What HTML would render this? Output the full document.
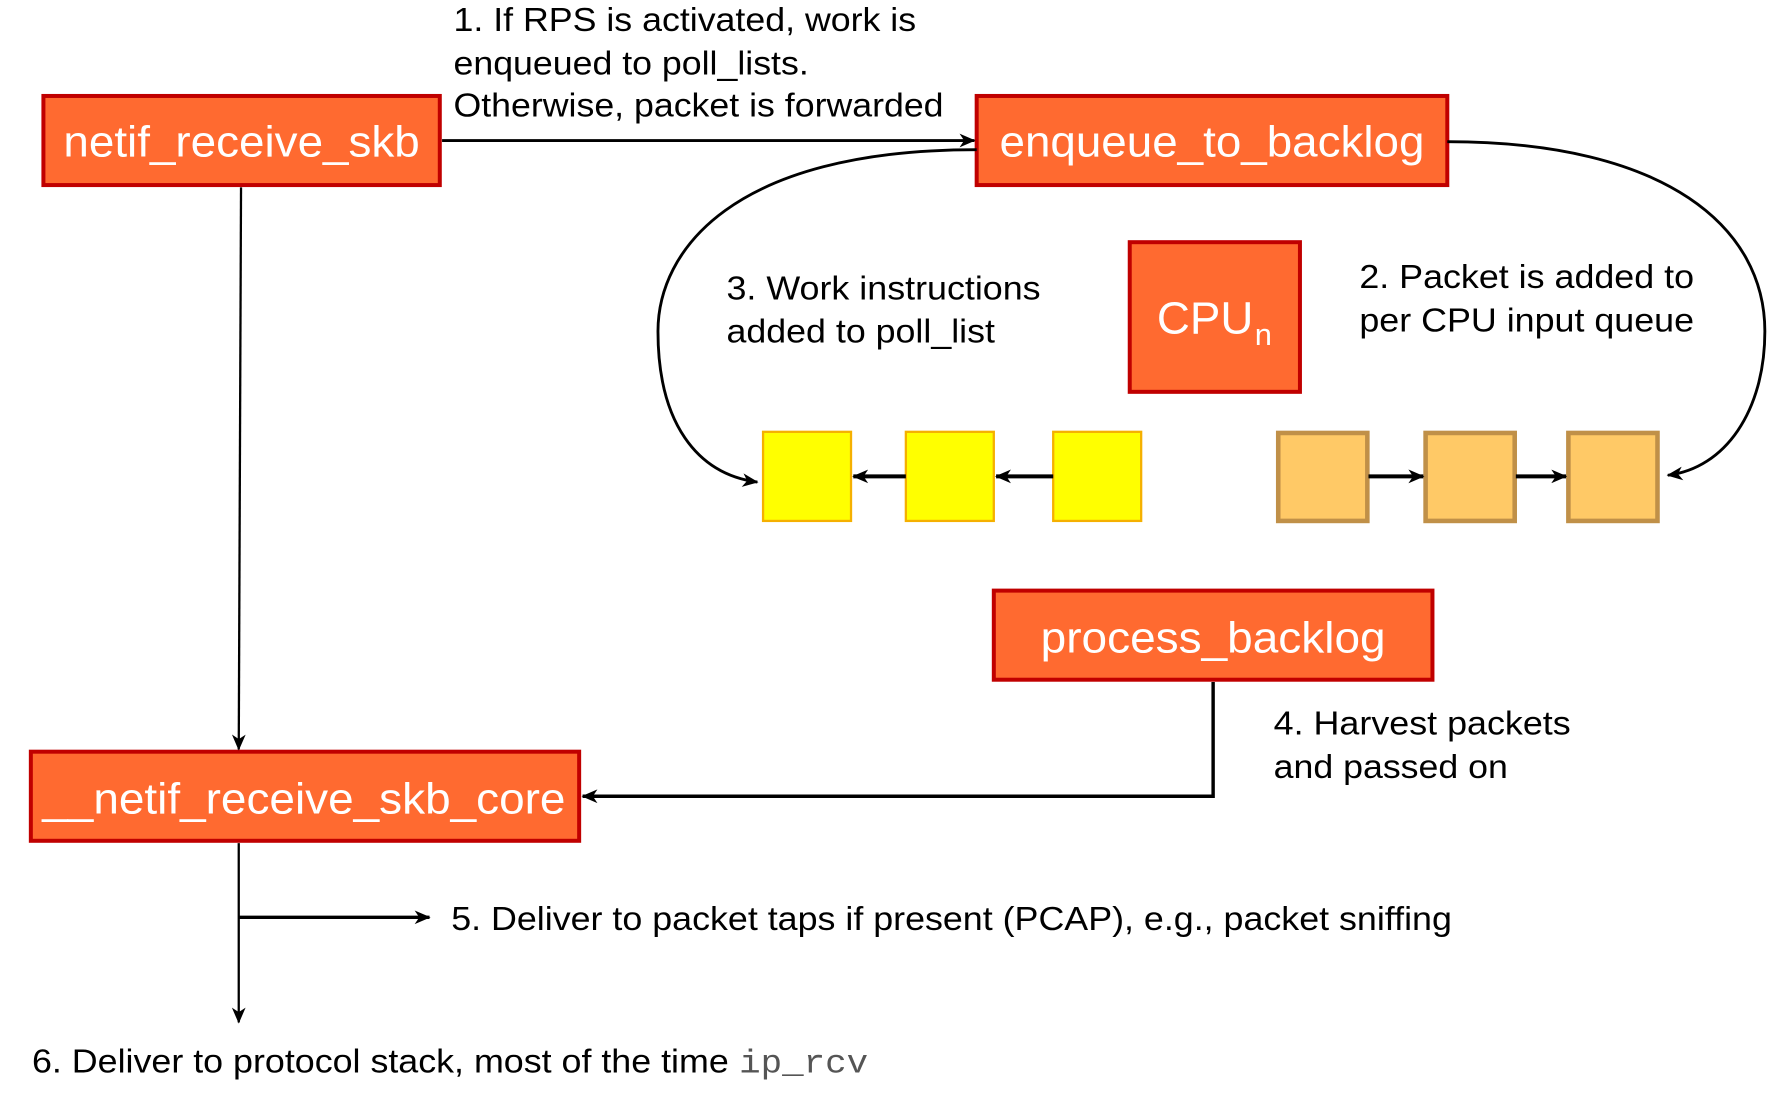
<!DOCTYPE html>
<html><head><meta charset="utf-8"><style>html,body{margin:0;padding:0;background:#fff}svg{display:block}</style></head>
<body>
<svg width="1782" height="1096" viewBox="0 0 1560 959.4" preserveAspectRatio="none" xmlns="http://www.w3.org/2000/svg" font-family="Liberation Sans, Arial, sans-serif">
<defs>
<marker id="a" markerWidth="14" markerHeight="14" refX="13" refY="7" orient="auto" markerUnits="userSpaceOnUse"><path d="M0,1 L14,7 L0,13 L4,7 z" fill="#000"/></marker>
</defs>
<g fill="#FF6A30" stroke="#C00000" stroke-width="3.5">
<rect x="38" y="84" width="347" height="78"/>
<rect x="855" y="84" width="412" height="78"/>
<rect x="989" y="212" width="149" height="131"/>
<rect x="870" y="517" width="384" height="78"/>
<rect x="27" y="658" width="480" height="78"/>
</g>
<g fill="#FFFF00" stroke="#F5B000" stroke-width="2">
<rect x="668" y="378" width="77" height="78"/>
<rect x="793" y="378" width="77" height="78"/>
<rect x="922" y="378" width="77" height="78"/>
</g>
<g fill="#FFC966" stroke="#C09048" stroke-width="4">
<rect x="1119" y="379" width="78" height="77"/>
<rect x="1248" y="379" width="78" height="77"/>
<rect x="1373" y="379" width="78" height="77"/>
</g>
<g fill="#fff" font-size="38" text-anchor="middle">
<text x="211.5" y="137" textLength="312" lengthAdjust="spacingAndGlyphs">netif_receive_skb</text>
<text x="1061" y="137" textLength="372" lengthAdjust="spacingAndGlyphs">enqueue_to_backlog</text>
<text x="1062" y="571" textLength="302" lengthAdjust="spacingAndGlyphs">process_backlog</text>
<text x="266" y="712" textLength="458" lengthAdjust="spacingAndGlyphs">__netif_receive_skb_core</text>
<text x="1055" y="292" font-size="40">CPU</text>
<text x="1106" y="302" font-size="27">n</text>
</g>
<g stroke="#000" stroke-width="2.5" fill="none">
<line x1="387" y1="123" x2="853" y2="123" marker-end="url(#a)"/>
<path d="M855,131 C640,131 576,220 576,290 C576,370 610,415 663,422" marker-end="url(#a)"/>
<path d="M1267,124 C1460,124 1545,200 1545,290 C1545,360 1510,410 1460,416" marker-end="url(#a)"/>
<line x1="793" y1="417" x2="747" y2="417" stroke-width="3.5" marker-end="url(#a)"/>
<line x1="922" y1="417" x2="872" y2="417" stroke-width="3.5" marker-end="url(#a)"/>
<line x1="1198" y1="417" x2="1246" y2="417" stroke-width="3.5" marker-end="url(#a)"/>
<line x1="1327" y1="417" x2="1371" y2="417" stroke-width="3.5" marker-end="url(#a)"/>
<line x1="211" y1="164" x2="209" y2="656" stroke-width="2" marker-end="url(#a)"/>
<polyline points="1062,597 1062,697 510,697" stroke-width="3" marker-end="url(#a)"/>
<line x1="209" y1="738" x2="209" y2="895" stroke-width="2" marker-end="url(#a)"/>
<line x1="209" y1="803" x2="376" y2="803" stroke-width="3" marker-end="url(#a)"/>
</g>
<g fill="#000" font-size="29">
<text x="397" y="27" textLength="405" lengthAdjust="spacingAndGlyphs">1. If RPS is activated, work is</text>
<text x="397" y="65" textLength="311" lengthAdjust="spacingAndGlyphs">enqueued to poll_lists.</text>
<text x="397" y="102" textLength="429" lengthAdjust="spacingAndGlyphs">Otherwise, packet is forwarded</text>
<text x="636" y="262" textLength="275" lengthAdjust="spacingAndGlyphs">3. Work instructions</text>
<text x="636" y="300" textLength="235" lengthAdjust="spacingAndGlyphs">added to poll_list</text>
<text x="1190" y="252" textLength="293" lengthAdjust="spacingAndGlyphs">2. Packet is added to</text>
<text x="1190" y="290" textLength="293" lengthAdjust="spacingAndGlyphs">per CPU input queue</text>
<text x="1115" y="643" textLength="260" lengthAdjust="spacingAndGlyphs">4. Harvest packets</text>
<text x="1115" y="681" textLength="205" lengthAdjust="spacingAndGlyphs">and passed on</text>
<text x="395" y="814" textLength="876" lengthAdjust="spacingAndGlyphs">5. Deliver to packet taps if present (PCAP), e.g., packet sniffing</text>
<text x="28" y="939" textLength="610" lengthAdjust="spacingAndGlyphs">6. Deliver to protocol stack, most of the time</text>
<text x="647" y="939" fill="#555" font-family="Liberation Mono, monospace" textLength="113" lengthAdjust="spacingAndGlyphs">ip_rcv</text>
</g>
</svg>
</body></html>
